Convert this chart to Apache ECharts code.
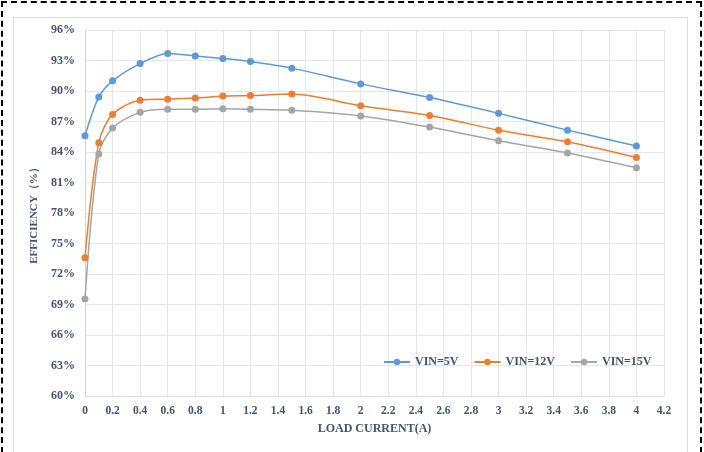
<!DOCTYPE html>
<html>
<head>
<meta charset="utf-8">
<script src="https://cdn.jsdelivr.net/npm/echarts@6/dist/echarts.min.js"></script>
<style>
html,body{margin:0;padding:0;background:#fff;}
#outer{position:absolute;left:1px;top:1px;width:701px;height:452px;border:2px dashed #000;border-bottom:none;box-sizing:border-box;}
#inner{position:absolute;left:13px;top:17px;width:675px;height:440px;border:1px solid #d9dce3;box-sizing:border-box;}
#chart{position:absolute;left:0;top:0;width:704px;height:452px;}
</style>
</head>
<body>
<div id="outer"></div>
<div id="inner"></div>
<div id="chart"></div>
<script>
const loadCurrent = [0, 0.1, 0.2, 0.4, 0.6, 0.8, 1.0, 1.2, 1.5, 2, 2.5, 3, 3.5, 4];
const vin5 = [85.6, 89.4, 91.0, 92.7, 93.7, 93.45, 93.2, 92.9, 92.25, 90.7, 89.35, 87.8, 86.15, 84.6];
const vin12 = [73.6, 84.9, 87.7, 89.1, 89.2, 89.3, 89.5, 89.55, 89.7, 88.55, 87.6, 86.15, 85.0, 83.45];
const vin15 = [69.55, 83.8, 86.35, 87.9, 88.2, 88.2, 88.25, 88.2, 88.1, 87.55, 86.45, 85.1, 83.9, 82.45];
const seriesNames = ['VIN=5V', 'VIN=12V', 'VIN=15V'];
const seriesColors = ['#5B9BD5', '#ED7D31', '#A5A5A5'];
const seriesValues = [vin5, vin12, vin15];

const textColor = '#44546A';
const font = 'Liberation Serif';
const chart = echarts.init(document.getElementById('chart'));
chart.setOption({
  animation: false,
  grid: {left: 85, right: 40, top: 30, bottom: 56},
  legend: {
    data: seriesNames,
    left: 378, top: 351,
    itemWidth: 26, itemHeight: 8, itemGap: 15,
    textStyle: {color: textColor, fontFamily: font, fontWeight: 'bold', fontSize: 12}
  },
  xAxis: {
    type: 'value', min: 0, max: 4.2, interval: 0.2,
    name: 'LOAD CURRENT(A)', nameLocation: 'middle', nameGap: 27,
    nameTextStyle: {color: textColor, fontFamily: font, fontWeight: 'bold', fontSize: 12},
    axisLine: {show: true, lineStyle: {color: '#d9dce3'}},
    axisTick: {show: false},
    axisLabel: {color: textColor, fontFamily: font, fontWeight: 'bold', fontSize: 11.5, margin: 9},
    splitLine: {show: true, lineStyle: {color: '#e3e6ec'}}
  },
  yAxis: {
    type: 'value', min: 60, max: 96, interval: 3,
    name: 'EFFICIENCY（%）', nameLocation: 'middle', nameGap: 45, nameRotate: 90,
    nameTextStyle: {color: textColor, fontFamily: font, fontWeight: 'bold', fontSize: 11},
    axisLine: {show: true, lineStyle: {color: '#d0d4dc'}},
    axisTick: {show: false},
    axisLabel: {color: textColor, fontFamily: font, fontWeight: 'bold', fontSize: 12, margin: 10, formatter: '{value}%'},
    splitLine: {show: true, lineStyle: {color: '#e3e6ec'}}
  },
  series: seriesNames.map((n, i) => ({
    name: n, type: 'line', smooth: 0.3,
    data: loadCurrent.map((x, j) => [x, seriesValues[i][j]]),
    symbol: 'circle', symbolSize: 7,
    lineStyle: {width: 1.5, color: seriesColors[i]},
    itemStyle: {color: seriesColors[i]}
  }))
});
</script>
</body>
</html>
